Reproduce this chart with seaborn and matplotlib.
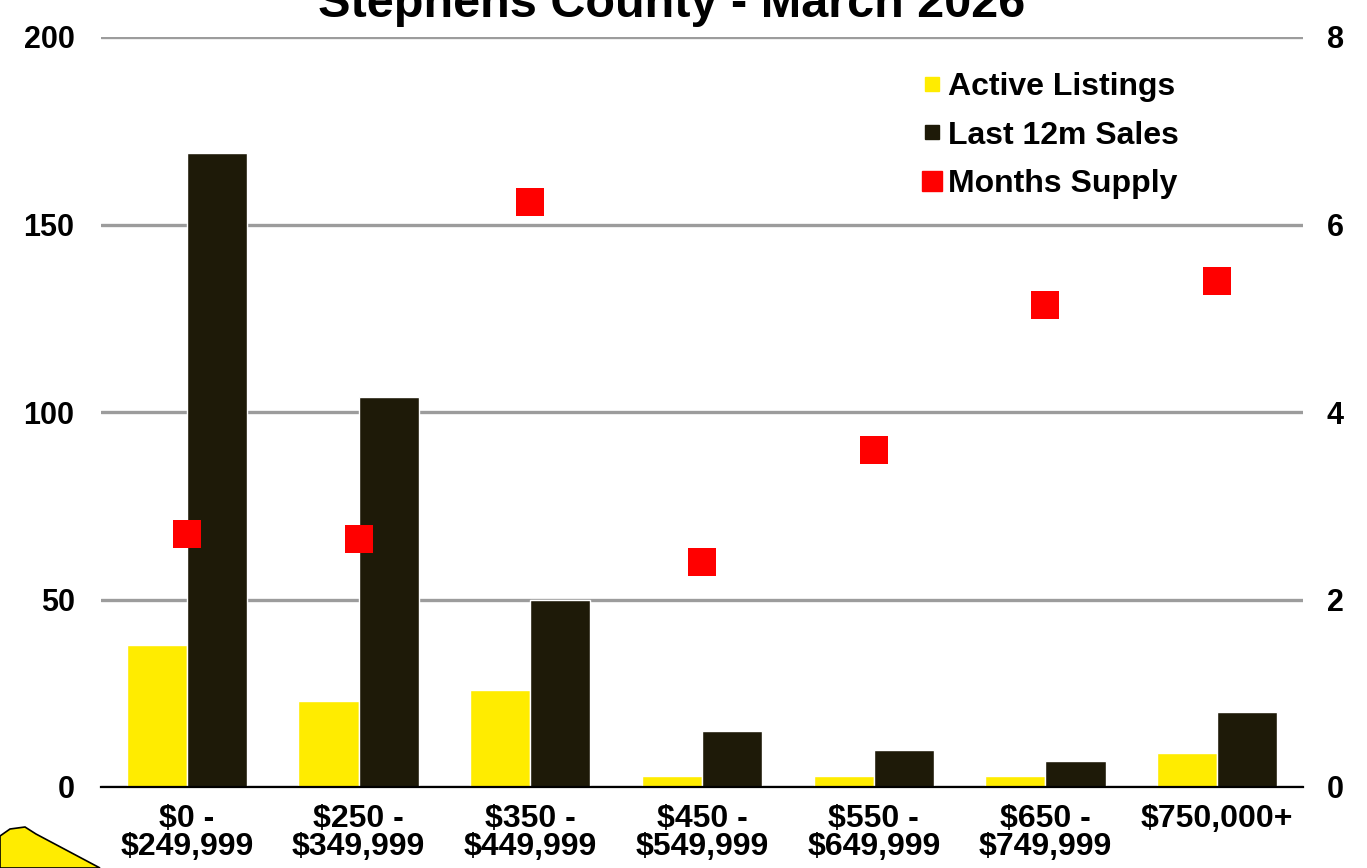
"""
Import packages
"""
import numpy as np
import pandas as pd
import matplotlib
matplotlib.use('Agg')
import matplotlib.pyplot as plt
from matplotlib.lines import Line2D
from matplotlib.patches import Polygon
import seaborn as sns

"""
Data
"""
price_ranges = ['\\$0 -\n\\$249,999', '\\$250 -\n\\$349,999', '\\$350 -\n\\$449,999',
                '\\$450 -\n\\$549,999', '\\$550 -\n\\$649,999', '\\$650 -\n\\$749,999',
                '\\$750,000+']
active_listings = [38, 23, 26, 3, 3, 3, 9]
last_12m_sales = [169, 104, 50, 15, 10, 7, 20]
months_supply = [2.70, 2.65, 6.24, 2.40, 3.60, 5.14, 5.40]
series_names = ['Active Listings', 'Last 12m Sales', 'Months Supply']

yellow = '#ffec00'
dark = '#1e1a08'
red = '#ff0000'

df = pd.DataFrame({
    'range': price_ranges * 2,
    'series': [series_names[0]] * len(price_ranges) + [series_names[1]] * len(price_ranges),
    'value': active_listings + last_12m_sales,
})

"""
Plot
"""
sns.set_style('white')
plt.rcParams['font.family'] = ['Liberation Sans', 'DejaVu Sans']
plt.rcParams['font.weight'] = 'bold'
plt.rcParams['text.color'] = 'black'
plt.rcParams['xtick.color'] = 'black'
plt.rcParams['ytick.color'] = 'black'

fig = plt.figure(figsize=(13.67, 8.68), dpi=100)
ax = fig.add_axes([101 / 1367, 1 - 787 / 868, 1202 / 1367, 750 / 868])

sns.barplot(data=df, x='range', y='value', hue='series', palette=[yellow, dark],
            width=0.7, saturation=1, legend=False, ax=ax)

ax.set_xlim(-0.5, len(price_ranges) - 0.5)
ax.set_ylim(0, 200)
ax.set_yticks(range(0, 201, 50))
ax.yaxis.grid(True, color='#9c9c9c', linewidth=2.4)
ax.set_axisbelow(True)
ax.set_xlabel('')
ax.set_ylabel('')
for s in ['left', 'right', 'top']:
    ax.spines[s].set_visible(False)
ax.spines['bottom'].set_color('black')
ax.spines['bottom'].set_linewidth(1.6)
ax.set_xticks(np.arange(-0.5, len(price_ranges), 1), minor=True)
ax.tick_params(axis='x', which='major', length=0, pad=12, labelsize=23, labelcolor='black')
ax.tick_params(axis='x', which='minor', length=8, width=1.5, direction='out', color='black')
ax.tick_params(axis='y', length=0, pad=19, labelsize=22, labelcolor='black')
for lbl in ax.get_xticklabels():
    lbl.set_fontweight('bold')
    lbl.set_linespacing(0.92)
for lbl in ax.get_yticklabels():
    lbl.set_fontweight('bold')

ax2 = ax.twinx()
sns.scatterplot(x=list(range(len(price_ranges))), y=months_supply, marker='s', s=400,
                color=red, linewidth=0, legend=False, ax=ax2, zorder=5)
ax2.set_ylim(0, 8)
ax2.set_yticks(range(0, 9, 2))
ax2.grid(False)
for s in ['left', 'right', 'top', 'bottom']:
    ax2.spines[s].set_visible(False)
ax2.tick_params(axis='y', length=0, pad=17, labelsize=22, labelcolor='black')
for lbl in ax2.get_yticklabels():
    lbl.set_fontweight('bold')

fig.text(0.491, 1 - 17 / 868, 'Stephens County - March 2026', ha='center', va='baseline',
         fontsize=35, fontweight='bold', color='black')

handles = [Line2D([], [], marker='s', ls='', color=yellow, markersize=10),
           Line2D([], [], marker='s', ls='', color=dark, markersize=10),
           Line2D([], [], marker='s', ls='', color=red, markersize=14)]
fig.legend(handles, series_names, loc='upper left', bbox_to_anchor=(921 / 1367, 1 - 72 / 868),
           frameon=False, prop={'weight': 'bold', 'size': 23}, handlelength=0.7,
           handletextpad=0.15, labelspacing=0.58, borderpad=0, borderaxespad=0,
           labelcolor='black')

# logo corner
pts = [(0, 836), (10, 829), (25, 827), (36, 834), (100, 868), (0, 868)]
fig.patches.append(Polygon([(x / 1367, 1 - y / 868) for x, y in pts], closed=True,
                           facecolor=yellow, edgecolor='black', linewidth=1.2,
                           transform=fig.transFigure))

fig.savefig('out.png', dpi=100)
plt.close()
